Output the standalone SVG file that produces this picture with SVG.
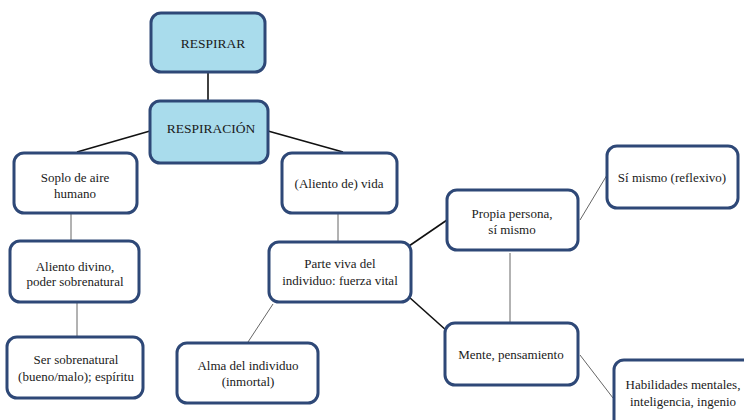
<svg xmlns="http://www.w3.org/2000/svg" width="744" height="420" viewBox="0 0 744 420">
<style>
.box{fill:#ffffff;stroke:#2e4877;stroke-width:3}
.blue{fill:#a9dcec}
text{font-family:'Liberation Serif','DejaVu Serif',serif;font-size:13px;fill:#1a1a1a;text-anchor:middle;dominant-baseline:central}
.cap{font-size:13.5px}
.dark{stroke:#111;stroke-width:1.6;fill:none}
.thin{stroke:#666;stroke-width:1;fill:none}
</style>
<rect width="744" height="420" fill="#ffffff"/>
<g id="connectors">
<line class="dark" x1="208" y1="72" x2="208" y2="101"/>
<line class="dark" x1="150" y1="131" x2="77" y2="152"/>
<line class="dark" x1="268" y1="131" x2="343" y2="152"/>
<line class="thin" x1="71" y1="213" x2="71" y2="241"/>
<line class="thin" x1="77" y1="302" x2="77" y2="336"/>
<line class="thin" x1="338" y1="213" x2="338" y2="241"/>
<line class="thin" x1="273" y1="304" x2="248" y2="342"/>
<line class="dark" x1="409" y1="246" x2="447" y2="220"/>
<line class="dark" x1="409" y1="297" x2="447" y2="331"/>
<line class="thin" x1="510" y1="253" x2="510" y2="323"/>
<line class="thin" x1="580" y1="220" x2="607" y2="175"/>
<line class="thin" x1="580" y1="355" x2="613" y2="398"/>
</g>
<g id="respirar"><rect class="box blue" x="151" y="13" width="114" height="59" rx="10"/><text class="cap" x="213" y="43" font-family="Liberation Serif, serif">RESPIRAR</text></g>
<g id="respiracion"><rect class="box blue" x="150" y="101" width="118" height="62" rx="10"/><text class="cap" x="211" y="128">RESPIRACIÓN</text></g>
<g id="soplo"><rect class="box" x="14" y="153" width="123" height="60" rx="10"/><text x="75" y="177">Soplo de aire</text><text x="75" y="193">humano</text></g>
<g id="aliento-divino"><rect class="box" x="10" y="241" width="129" height="61" rx="10"/><text x="75" y="266">Aliento divino,</text><text x="75" y="281">poder sobrenatural</text></g>
<g id="ser-sobrenatural"><rect class="box" x="7" y="337" width="136" height="61" rx="10"/><text x="76" y="359">Ser sobrenatural</text><text x="76" y="376">(bueno/malo);  espíritu</text></g>
<g id="vida"><rect class="box" x="282" y="153" width="115" height="60" rx="10"/><text x="339" y="183">(Aliento de) vida</text></g>
<g id="parte-viva"><rect class="box" x="269" y="242" width="142" height="60" rx="10"/><text x="340" y="263">Parte viva  del</text><text x="340" y="280">individuo: fuerza vital</text></g>
<g id="alma"><rect class="box" x="177" y="343" width="141" height="60" rx="10"/><text x="248" y="365">Alma del individuo</text><text x="248" y="381">(inmortal)</text></g>
<g id="propia"><rect class="box" x="447" y="190" width="131" height="60" rx="10"/><text x="512" y="213">Propia persona,</text><text x="512" y="229">sí mismo</text></g>
<g id="si-mismo"><rect class="box" x="607" y="146" width="131" height="62" rx="10"/><text x="672" y="177">Sí mismo  (reflexivo)</text></g>
<g id="mente"><rect class="box" x="445" y="323" width="133" height="62" rx="10"/><text x="511" y="354">Mente, pensamiento</text></g>
<g id="habilidades"><rect class="box" x="614" y="360" width="140" height="70" rx="10"/><text x="683" y="384">Habilidades mentales,</text><text x="683" y="401">inteligencia,  ingenio</text></g>
</svg>
